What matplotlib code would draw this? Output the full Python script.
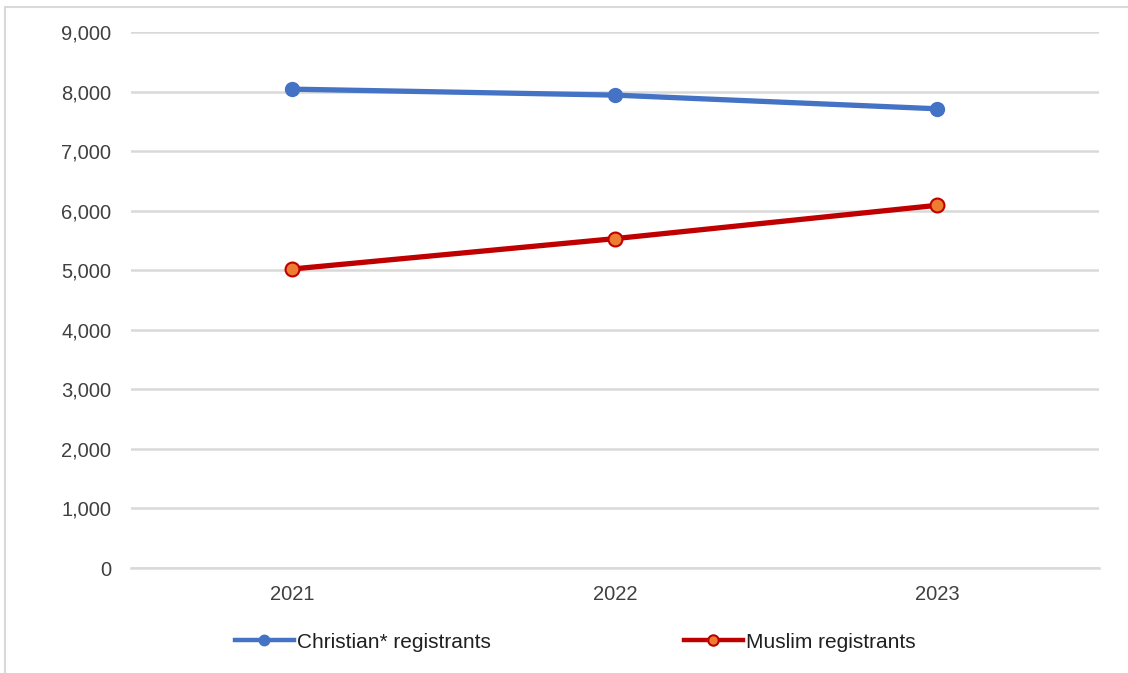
import matplotlib.pyplot as plt
from matplotlib.patches import Rectangle
from matplotlib.ticker import FuncFormatter

years = ["2021", "2022", "2023"]
christian = [8040, 7940, 7710]
muslim = [5020, 5530, 6090]
y_ticks = [0, 1000, 2000, 3000, 4000, 5000, 6000, 7000, 8000, 9000]

plt.rcParams['font.family'] = ['Liberation Sans', 'DejaVu Sans']

fig = plt.figure(figsize=(11.28, 6.73), dpi=100)
ax = fig.add_axes([0.116, 0.156, 0.858, 0.7965])

x = range(len(years))
ax.plot(x, christian, color='#4472c4', lw=3.8, marker='o', ms=10,
        mfc='#4472c4', mec='#4472c4', label='Christian* registrants', zorder=3)
ax.plot(x, muslim, color='#c00000', lw=3.8, marker='o', ms=10,
        mfc='#ed7d31', mec='#c00000', mew=1.5, label='Muslim registrants', zorder=3)

ax.set_xlim(-0.5, 2.5)
ax.set_ylim(0, 9000)
ax.set_xticks(list(x))
ax.set_xticklabels(years)
ax.set_yticks(y_ticks)
ax.yaxis.set_major_formatter(FuncFormatter(lambda v, p: f"{int(v):,}"))
ax.tick_params(axis='both', length=0, labelsize=14.5, colors='#404040')
ax.tick_params(axis='y', pad=14)
ax.tick_params(axis='x', pad=12)
ax.grid(axis='y', color='#d9d9d9', lw=1.8)
ax.set_axisbelow(True)
for s in ['top', 'right', 'left']:
    ax.spines[s].set_visible(False)
ax.spines['bottom'].set_color('#d9d9d9')
ax.spines['bottom'].set_linewidth(1.8)

leg = fig.legend(loc='center', bbox_to_anchor=(0.51, 0.046), ncol=2, frameon=False,
                 fontsize=15, handlelength=2.8, handletextpad=0.15, columnspacing=9.3,
                 markerscale=0.75, labelcolor='#202020')
for h in leg.legend_handles:
    h.set_linewidth(3.2)

fig.patches.append(Rectangle((5 / 1128, -0.05), 1.2, 1 - 7 / 673 + 0.05,
                             transform=fig.transFigure, fill=False,
                             edgecolor='#d9d9d9', lw=1.5))

fig.savefig('out.png', dpi=100)
